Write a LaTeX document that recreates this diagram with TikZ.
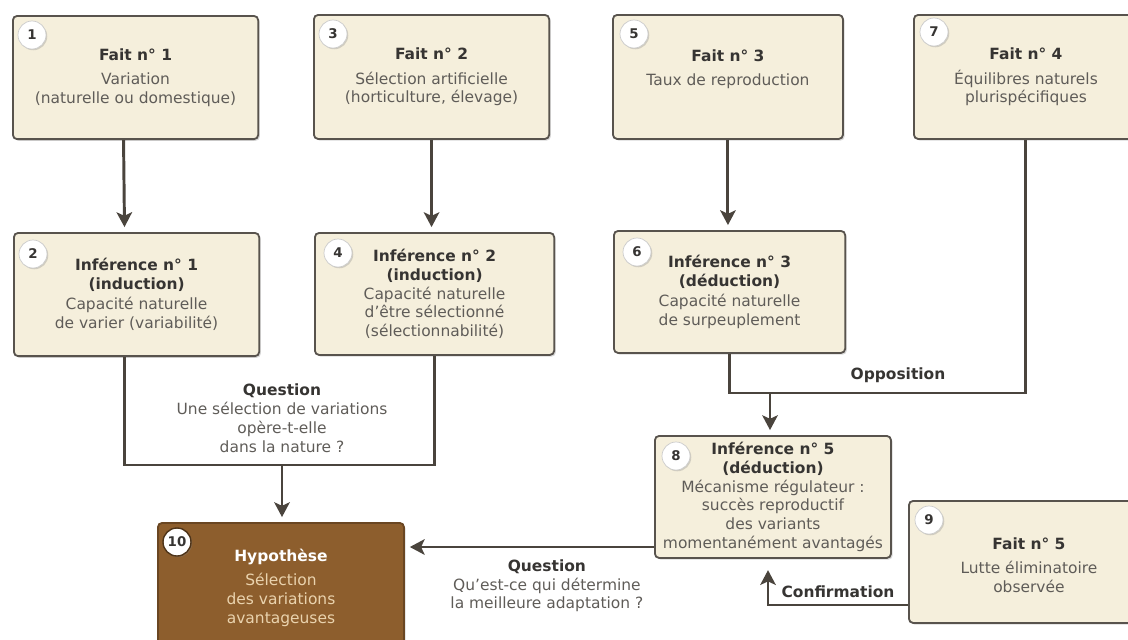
\documentclass[tikz,border=0pt]{standalone}
\usepackage{fontspec}
\setmainfont{DejaVu Sans}
\usetikzlibrary{arrows.meta}
\usetikzlibrary{shadows}

\definecolor{cream}{HTML}{F5EFDC}
\definecolor{frame}{HTML}{58534D}
\definecolor{wire}{HTML}{4A443D}
\definecolor{hypobrown}{HTML}{8D5E2D}
\definecolor{hypotan}{HTML}{EAD3AE}
\definecolor{ink}{HTML}{363432}
\definecolor{greytext}{HTML}{5F5C58}

\newcommand{\ttl}[1]{{\bfseries\color{ink}#1}}

\begin{document}
\begin{tikzpicture} [
    x=0.025cm, y=-0.025cm,
    font=\fontsize{11}{13.3}\selectfont,
    box/.style  = { rectangle, draw=frame, line width=1.3pt, fill=cream,
                    rounded corners=3pt, anchor=north west, align=center,
                    text=greytext, inner sep=0pt,
                    drop shadow={shadow xshift=1.2pt, shadow yshift=-1.2pt,
                                 opacity=.3} },
    hypo/.style = { box, draw=hypobrown!75!black, fill=hypobrown,
                    text=hypotan },
    num/.style  = { circle, draw=black!20, line width=.5pt, fill=white,
                    minimum size=.7cm, inner sep=0pt, text=ink,
                    font=\fontsize{9.5}{11}\selectfont\bfseries,
                    drop shadow={shadow xshift=.9pt, shadow yshift=-.9pt,
                                 opacity=.3} },
    lbl/.style  = { align=center, text=greytext, inner sep=1pt },
    line/.style = { draw=wire, line width=2.1pt,
                    -{Stealth[length=10.5pt, width=11pt, inset=2.5pt]},
                    shorten >=3.5pt },
  ]
\useasboundingbox (0,0) rectangle (1128,639);
\clip (0,0) rectangle (1128,639);

% facts, top row
\node [box, minimum width=6.13cm, minimum height=3.08cm] (fait1) at (12,15)
      {\ttl{Fait n° 1}\\[4pt] Variation\\ (naturelle ou domestique)};
\node [box, minimum width=5.88cm, minimum height=3.1cm] (fait2) at (313,14)
      {\ttl{Fait n° 2}\\[4pt] Sélection artificielle\\ (horticulture, élevage)};
\node [box, minimum width=5.75cm, minimum height=3.1cm] (fait3) at (612,14)
      {\ttl{Fait n° 3}\\[4pt] Taux de reproduction\\ \mbox{}};
\node [box, minimum width=5.6cm, minimum height=3.1cm] (fait4) at (913,14)
      {\ttl{Fait n° 4}\\[4pt] Équilibres naturels\\ plurispécifiques};

% inferences
\node [box, minimum width=6.13cm, minimum height=3.08cm] (inf1) at (13,232)
      {\ttl{Inférence n° 1}\\ \ttl{(induction)}\\[1pt] Capacité naturelle\\ de varier (variabilité)};
\node [box, minimum width=5.98cm, minimum height=3.05cm] (inf2) at (314,232)
      {\ttl{Inférence n° 2}\\ \ttl{(induction)}\\ Capacité naturelle\\ d'être sélectionné\\ (sélectionnabilité)};
\node [box, minimum width=5.78cm, minimum height=3.05cm] (inf3) at (613,230)
      {\ttl{Inférence n° 3}\\ \ttl{(déduction)}\\[1pt] Capacité naturelle\\ de surpeuplement};
\node [box, minimum width=5.9cm, minimum height=3.05cm] (inf5) at (654,435)
      {\ttl{Inférence n° 5}\\ \ttl{(déduction)}\\ Mécanisme régulateur :\\ succès reproductif\\ des variants\\ momentanément avantagés};
\node [box, minimum width=6cm, minimum height=3.05cm] (fait5) at (908,500)
      {\mbox{}\\ \ttl{Fait n° 5}\\[4pt] Lutte éliminatoire\\ observée};
\node [hypo, minimum width=6.15cm, minimum height=3.25cm] (hyp) at (157,522)
      {{\bfseries\color{white}Hypothèse}\\[4pt] Sélection\\ des variations\\ avantageuses};

% numbers
\node [num] (n1)  at ([shift={(20,20)}]fait1.north west) {1};
\node [num] (n2)  at ([shift={(20,22)}]inf1.north west)  {2};
\node [num] (n3)  at ([shift={(20,20)}]fait2.north west) {3};
\node [num] (n4)  at ([shift={(24,21)}]inf2.north west)  {4};
\node [num] (n5)  at ([shift={(22,20)}]fait3.north west) {5};
\node [num] (n6)  at ([shift={(24,22)}]inf3.north west)  {6};
\node [num] (n7)  at ([shift={(21,18)}]fait4.north west) {7};
\node [num] (n8)  at ([shift={(22,21)}]inf5.north west)  {8};
\node [num] (n9)  at ([shift={(21,20)}]fait5.north west) {9};
\node [num, draw=hypobrown!55!black, line width=1pt] (n10) at ([shift={(20,20)}]hyp.north west) {10};

\coordinate (qj) at (282,465);
\coordinate (oj) at (770,393);
\coordinate (qa) at (0,547);
\coordinate (cj) at (768,605);

\begin{scope} [every path/.style=line]
    \path ([xshift=-.3cm]fait1.south) -- ([xshift=-.3cm]inf1.north);
    \path (fait2.south) -- (fait2.south |- inf2.north);
    \path (fait3.south) -- (fait3.south |- inf3.north);
    \path [-, shorten >=0pt] ([xshift=-.3cm]inf1.south) |- (qj)
          node [lbl, above=7pt] {\ttl{Question}\\ Une sélection de variations\\ opère-t-elle\\ dans la nature ?}
          -| (inf2.south);
    \path (qj) -- (qj |- hyp.north);
    \path [-, shorten >=0pt] (inf3.south) |- (oj)
          -- node [lbl, above=5pt] {\ttl{Opposition}} (oj -| fait4.south) -- (fait4.south);
    \path (oj) -- (oj |- inf5.north);
    \path (inf5.west |- qa) -- node [lbl, below=7pt, pos=.43]
          {\ttl{Question}\\ Qu'est-ce qui détermine\\ la meilleure adaptation ?} (hyp.east |- qa);
    \path [shorten >=8pt] (fait5.west |- cj)
          -- node [lbl, above=3pt] {\ttl{Confirmation}} (cj) -- (cj |- inf5.south);
\end{scope}

\end{tikzpicture}
\end{document}
